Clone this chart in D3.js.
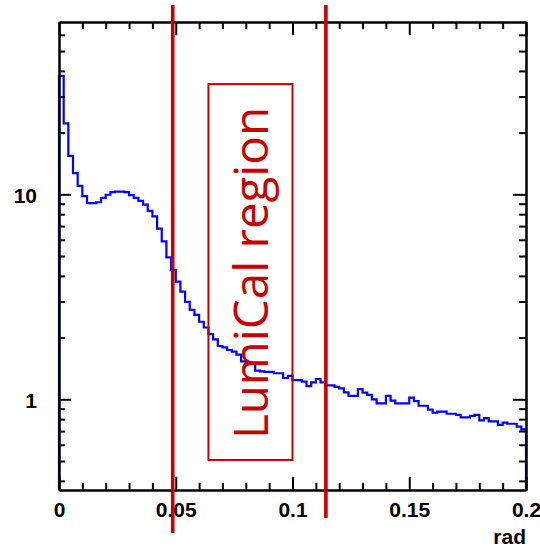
<!DOCTYPE html>
<html><head><meta charset="utf-8">
<script src="https://cdn.jsdelivr.net/npm/d3@7"></script>
<style>body{margin:0;background:#fff}svg{display:block}</style>
</head><body><svg id="c" width="540" height="550"></svg>
<script>
// ---- data ----
const binEdgesRange = [0, 0.2];
const counts = [
 37.8, 22.2, 15.4, 12.7, 11.0, 9.8, 9.05, 9.05, 9.15, 9.6,
 9.95, 10.25, 10.3, 10.3, 10.25, 9.9, 9.6, 9.3, 8.9, 8.3,
 7.8, 6.8, 5.9, 4.93, 4.27, 3.75, 3.35, 2.99, 2.73, 2.58,
 2.39, 2.24, 2.08, 1.96, 1.82, 1.79, 1.74, 1.71, 1.65, 1.53,
 1.52, 1.50, 1.38, 1.37, 1.36, 1.36, 1.34, 1.34, 1.27, 1.30,
 1.24, 1.24, 1.22, 1.16, 1.21, 1.256, 1.21, 1.17, 1.17, 1.15,
 1.13, 1.08, 1.04, 1.04, 1.12, 1.077, 1.05, 1.00, 0.956, 0.956,
 1.04, 0.985, 0.956, 0.956, 0.956, 1.02, 0.98, 0.93, 0.93, 0.89,
 0.86, 0.87, 0.87, 0.85, 0.85, 0.84, 0.816, 0.816, 0.83, 0.84,
 0.79, 0.81, 0.78, 0.78, 0.75, 0.77, 0.76, 0.76, 0.735, 0.714
];
const yRange = [0.361, 69.3];
const xMajorTicks = [0, 0.05, 0.1, 0.15, 0.2];
const xTickLabels = ["0", "0.05", "0.1", "0.15", "0.2"];
const xMinorTicks = [0.01,0.02,0.03,0.04,0.06,0.07,0.08,0.09,0.11,0.12,0.13,0.14,0.16,0.17,0.18,0.19];
const yMajorTicks = [1, 10];
const yTickLabels = ["1", "10"];
const yMinorTicks = [0.4,0.5,0.6,0.7,0.8,0.9,2,3,4,5,6,7,8,9,20,30,40,50,60];
const regionLines = [0.0487, 0.1143];
const regionBoxX = [0.064, 0.1];
const regionBoxY = [0.506, 34.5];
const regionLabel = "LumiCal region";
const xTitle = "rad";

// ---- layout ----
const L = 59, R = 526, T = 22, B = 490;
const svg = d3.select("#c");
svg.append("rect").attr("width",540).attr("height",550).attr("fill","#fff");

const x = d3.scaleLinear().domain(binEdgesRange).range([L, R]);
const y = d3.scaleLog().domain(yRange).range([B, T]);
const nb = counts.length;
const bw = (binEdgesRange[1]-binEdgesRange[0])/nb;

// histogram
const pts = [[x(binEdgesRange[0]), B]];
counts.forEach((v,i)=>{
  const lo = binEdgesRange[0] + i*bw, hi = lo + bw;
  pts.push([x(lo), y(v)], [x(hi), y(v)]);
});
pts.push([x(binEdgesRange[1]), B]);
svg.append("path").attr("d", d3.line()(pts))
  .attr("fill","none").attr("stroke","#0000ff").attr("stroke-width",2.2)
  .attr("stroke-linejoin","miter");

// axes
const numFont = "'Liberation Sans', Arial, Helvetica, sans-serif";
function styleAxis(g){
  g.selectAll("path.domain").attr("stroke","#000").attr("stroke-width",2);
  g.selectAll(".tick line").attr("stroke","#000").attr("stroke-width",2);
  g.selectAll("text").attr("font-family",numFont).attr("font-weight","bold")
    .attr("font-size",21).attr("fill","#000");
}
const gB = svg.append("g").attr("transform",`translate(0,${B})`)
  .call(d3.axisBottom(x).tickValues(xMajorTicks).tickSizeInner(-13).tickSizeOuter(0)
    .tickPadding(12).tickFormat((d,i)=>xTickLabels[i]));
styleAxis(gB);
const gBm = svg.append("g").attr("transform",`translate(0,${B})`)
  .call(d3.axisBottom(x).tickValues(xMinorTicks).tickSizeInner(-7).tickSizeOuter(0).tickFormat(""));
styleAxis(gBm);
const gT = svg.append("g").attr("transform",`translate(0,${T})`)
  .call(d3.axisTop(x).tickValues(xMajorTicks).tickSizeInner(-13).tickSizeOuter(0).tickFormat(""));
styleAxis(gT);
const gTm = svg.append("g").attr("transform",`translate(0,${T})`)
  .call(d3.axisTop(x).tickValues(xMinorTicks).tickSizeInner(-7).tickSizeOuter(0).tickFormat(""));
styleAxis(gTm);
const gL = svg.append("g").attr("transform",`translate(${L},0)`)
  .call(d3.axisLeft(y).tickValues(yMajorTicks).tickSizeInner(-12).tickSizeOuter(0)
    .tickPadding(22).tickFormat((d,i)=>yTickLabels[i]));
styleAxis(gL);
gL.selectAll("text").attr("dy","0.38em");
const gLm = svg.append("g").attr("transform",`translate(${L},0)`)
  .call(d3.axisLeft(y).tickValues(yMinorTicks).tickSizeInner(-6).tickSizeOuter(0).tickFormat(""));
styleAxis(gLm);
const gR = svg.append("g").attr("transform",`translate(${R},0)`)
  .call(d3.axisRight(y).tickValues(yMajorTicks).tickSizeInner(-13).tickSizeOuter(0).tickFormat(""));
styleAxis(gR);
const gRm = svg.append("g").attr("transform",`translate(${R},0)`)
  .call(d3.axisRight(y).tickValues(yMinorTicks).tickSizeInner(-7).tickSizeOuter(0).tickFormat(""));
styleAxis(gRm);

// axis title
svg.append("text").attr("x", R).attr("y", 544).attr("text-anchor","end")
  .attr("font-family",numFont).attr("font-weight","bold").attr("font-size",21)
  .text(xTitle);

// region markers
const red = "#c80000";
const lineTops = [5, 5], lineBottoms = [533, 518];
svg.selectAll("line.region").data(regionLines).enter().append("line")
  .attr("class","region")
  .attr("x1", d=>x(d)).attr("x2", d=>x(d))
  .attr("y1", (d,i)=>lineTops[i]).attr("y2", (d,i)=>lineBottoms[i])
  .attr("stroke", red).attr("stroke-width", 3.6);

svg.append("rect")
  .attr("x", x(regionBoxX[0])).attr("width", x(regionBoxX[1]) - x(regionBoxX[0]))
  .attr("y", y(regionBoxY[1])).attr("height", y(regionBoxY[0]) - y(regionBoxY[1]))
  .attr("fill","none").attr("stroke", red).attr("stroke-width", 2);

const cx = (x(regionBoxX[0]) + x(regionBoxX[1]))/2;
const cy = (y(regionBoxY[0]) + y(regionBoxY[1]))/2;
svg.append("text")
  .attr("transform", `translate(${cx+18},${cy+1}) rotate(-90)`)
  .attr("text-anchor","middle")
  .attr("font-family","'Open Sans', 'Liberation Sans', sans-serif")
  .attr("font-size", 47.5).attr("fill", red)
  .text(regionLabel);
</script>
</body></html>
